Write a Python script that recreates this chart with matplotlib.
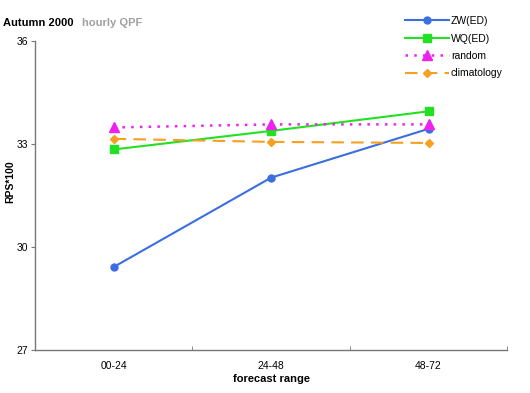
import matplotlib
matplotlib.use('Agg')
import matplotlib.pyplot as plt
from matplotlib.ticker import FixedLocator

plt.rcParams['font.family'] = ['Liberation Sans', 'DejaVu Sans']

# 数据
ranges = ['00-24', '24-48', '48-72']
zw_ed = [29.42, 32.02, 33.44]
wq_ed = [32.84, 33.38, 33.95]
random_ = [33.48, 33.57, 33.57]
climatology = [33.15, 33.06, 33.03]

fig = plt.figure(figsize=(5.3, 3.93), dpi=100)
ax = fig.add_axes([0.066, 0.109, 0.891, 0.787])

x = range(len(ranges))
ax.plot(x, zw_ed, color='#3b6ee0', lw=1.5, marker='o', ms=5, label='ZW(ED)')
ax.plot(x, wq_ed, color='#22e022', lw=1.5, marker='s', ms=5.5, label='WQ(ED)')
ax.plot(x, random_, color='#ee22ee', lw=1.8, ls=(0, (1, 2.5)), marker='^', ms=7, label='random')
ax.plot(x, climatology, color='#f5a020', lw=1.5, ls=(0, (6, 3.5)), marker='D', ms=4, label='climatology')

ax.set_xlim(-0.5, 2.5)
ax.set_ylim(27, 36)
ax.set_yticks([27, 30, 33, 36])
ax.set_xticks(list(x))
ax.set_xticklabels(ranges)
ax.xaxis.set_minor_locator(FixedLocator([0.5, 1.5, 2.5]))
ax.tick_params(axis='x', which='major', length=0, labelsize=7.5, pad=8)
ax.tick_params(axis='x', which='minor', direction='in', length=3, color='#777777')
ax.tick_params(axis='y', length=3, color='#777777', labelsize=7.5, pad=2)

for s in ['top', 'right']:
    ax.spines[s].set_visible(False)
for s in ['left', 'bottom']:
    ax.spines[s].set_color('#777777')
    ax.spines[s].set_linewidth(1)

ax.set_xlabel('forecast range', fontsize=8, fontweight='bold', labelpad=2)
ax.set_ylabel('RPS*100', fontsize=7.5, fontweight='bold')
ax.yaxis.set_label_coords(-0.042, 0.544)

fig.text(0.006, 0.935, 'Autumn 2000', fontsize=8, fontweight='bold', color='black')
fig.text(0.155, 0.935, 'hourly QPF', fontsize=8, fontweight='bold', color='#a0a0a0')

fig.legend(loc='upper left', bbox_to_anchor=(405 / 530, 1 - 16 / 393), frameon=False,
           fontsize=7.5, borderpad=0, borderaxespad=0,
           handlelength=4.2, handletextpad=0.2, labelspacing=0.72)

fig.savefig('out.png', dpi=100)
